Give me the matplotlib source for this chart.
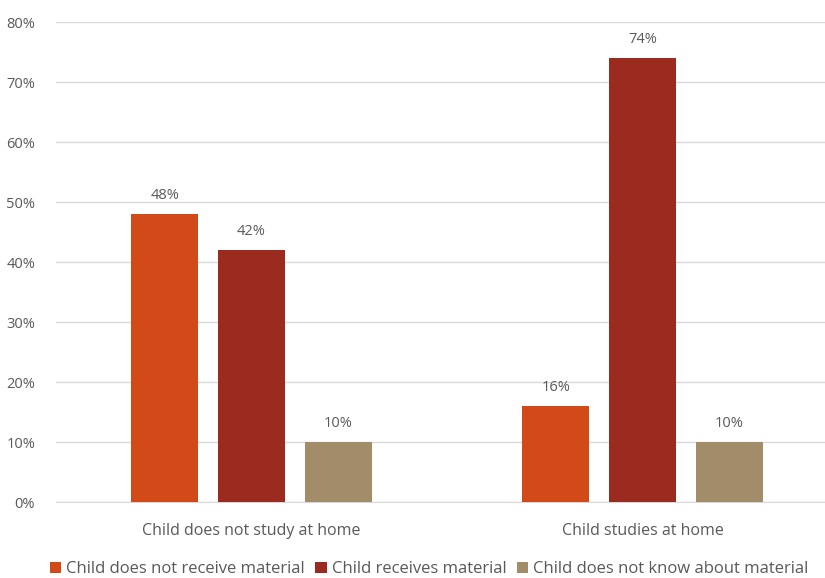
import matplotlib.pyplot as plt
import numpy as np

groups = ['Child does not study at home', 'Child studies at home']
series = ['Child does not receive material', 'Child receives material',
          'Child does not know about material']
values = {
    'Child does not receive material': [48, 16],
    'Child receives material': [42, 74],
    'Child does not know about material': [10, 10],
}
colors = ['#D24A17', '#9A2B1E', '#A38C6A']
ticks = [0, 10, 20, 30, 40, 50, 60, 70, 80]

plt.rcParams['font.family'] = ['Open Sans', 'DejaVu Sans']
grey = '#595959'

fig = plt.figure(figsize=(8.25, 5.78), dpi=100)
# axes runs a bit past the right edge of the figure
ax = fig.add_axes([56 / 825, 76 / 578, 782 / 825, 480 / 578])

x = np.arange(len(groups))
width = 0.171
step = 0.2215
for i, (name, c) in enumerate(zip(series, colors)):
    pos = x + (i - 1) * step
    bars = ax.bar(pos, values[name], width, color=c, label=name, zorder=3)
    for b, v in zip(bars, values[name]):
        ax.annotate(f'{v}%', (b.get_x() + b.get_width() / 2, v),
                    xytext=(0, 8), textcoords='offset points',
                    ha='center', va='bottom', fontsize=10.5, color=grey)

ax.set_xlim(-0.5, 1.5)
ax.set_ylim(0, 80)
ax.set_yticks(ticks)
ax.set_yticklabels([f'{t}%' for t in ticks])
ax.set_xticks(x)
ax.set_xticklabels(groups, fontsize=11.5)
ax.yaxis.grid(True, color='#D9D9D9', linewidth=1, zorder=0)
for s in ['top', 'right', 'left']:
    ax.spines[s].set_visible(False)
ax.spines['bottom'].set_color('#D9D9D9')
ax.tick_params(axis='both', length=0, colors=grey)
ax.tick_params(axis='y', pad=15, labelsize=10.5)
ax.tick_params(axis='x', pad=15)

fig.legend(loc='lower left', bbox_to_anchor=(43 / 825, -6 / 578), ncol=3,
           frameon=False, fontsize=12, handlelength=0.7, handleheight=0.7,
           handletextpad=0.3, columnspacing=0.6, labelcolor=grey,
           borderaxespad=0.0)

fig.savefig('out.png', dpi=100)
